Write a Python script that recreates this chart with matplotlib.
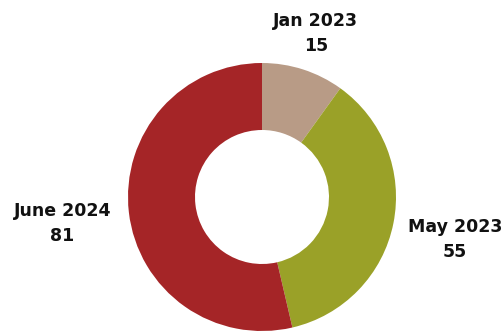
import numpy as np
import matplotlib
matplotlib.use("Agg")
import matplotlib.pyplot as plt
import matplotlib.transforms as mtransforms

categories = ["Jan 2023", "May 2023", "June 2024"]
values = [15, 55, 81]
colors = ["#b89b86", "#9aa128", "#a52527"]
label_dist = [1.31, 1.47, 1.50]

W, H = 504, 331
fig = plt.figure(figsize=(W / 100, H / 100), dpi=100)
cx, cy, r = 262, 331 - 197, 134
ax = fig.add_axes([(cx - r) / W, (cy - r) / H, 2 * r / W, 2 * r / H])
ax.pie(values, colors=colors, startangle=90, counterclock=False, radius=1,
       wedgeprops=dict(width=0.5, linewidth=0))
ax.set_xlim(-1, 1)
ax.set_ylim(-1, 1)
ax.set_aspect("equal")
ax.axis("off")

shift = mtransforms.ScaledTranslation(0, -4 / 100, fig.dpi_scale_trans)
total = sum(values)
cum = 0
for cat, v, d in zip(categories, values, label_dist):
    mid = 90 - (cum + v / 2) / total * 360
    cum += v
    a = np.deg2rad(mid)
    ax.text(d * np.cos(a), d * np.sin(a), f"{cat}\n{v}", ha="center", va="center",
            fontsize=12.5, fontweight="bold", family="DejaVu Sans", linespacing=1.5,
            clip_on=False, color="#111111", transform=ax.transData + shift)

fig.savefig("out.png", dpi=100)
